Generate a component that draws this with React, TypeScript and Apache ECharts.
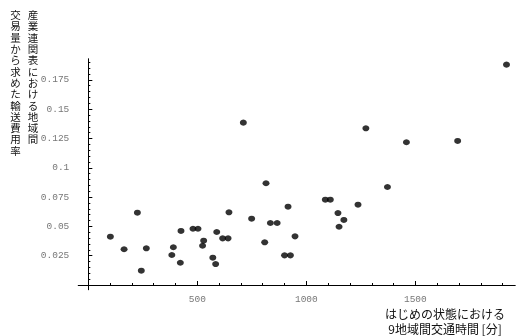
import { useEffect, useRef } from "react";
import * as echarts from "echarts";

// はじめの状態における9地域間交通時間 [分]
const transportTime = [
  101, 164, 225, 243, 266, 383, 390, 425, 422, 480, 503, 529, 524, 571, 584, 589,
  616, 641, 645, 711, 749, 809, 815, 835, 866, 900, 927, 916, 948, 1087, 1110,
  1145, 1150, 1172, 1237, 1273, 1372, 1459, 1694, 1918,
];
// 産業連関表における地域間交易量から求めた輸送費用率
const costRate = [
  0.0412, 0.0305, 0.0617, 0.0122, 0.0313, 0.0256, 0.0322, 0.0461, 0.019, 0.048,
  0.048, 0.0378, 0.0335, 0.0233, 0.0179, 0.0452, 0.0398, 0.0398, 0.062, 0.1385,
  0.0566, 0.0364, 0.0868, 0.0529, 0.0529, 0.0253, 0.0253, 0.0668, 0.0415, 0.0728,
  0.0728, 0.0614, 0.0497, 0.0555, 0.0685, 0.1337, 0.0836, 0.1218, 0.1229, 0.188,
];

const xMajorTicks = [500, 1000, 1500];
const xMinorTicks = [
  100, 200, 300, 400, 600, 700, 800, 900, 1100, 1200, 1300, 1400, 1600, 1700, 1800, 1900,
];
const yMajorTicks = [0.025, 0.05, 0.075, 0.1, 0.125, 0.15, 0.175];
const yMinorTicks = [
  0.005, 0.01, 0.015, 0.02, 0.03, 0.035, 0.04, 0.045, 0.055, 0.06, 0.065, 0.07,
  0.08, 0.085, 0.09, 0.095, 0.105, 0.11, 0.115, 0.12, 0.13, 0.135, 0.14, 0.145,
  0.155, 0.16, 0.165, 0.17, 0.18, 0.185, 0.19,
];

const yTitleColumn1 = "産業連関表における地域間";
const yTitleColumn2 = "交易量から求めた輸送費用率";
const xTitleLines = ["はじめの状態における", "9地域間交通時間 [分]"];

const X_MIN = -46;
const X_MAX = 1957;
const Y_MIN = -0.004;
const Y_MAX = 0.1928;

const labelStyle = {
  color: "#777",
  fontFamily: '"Liberation Mono", "DejaVu Sans Mono", monospace',
  fontSize: 9.5,
  formatter: (v: number) => String(v),
};

export default function App() {
  const ref = useRef<HTMLDivElement>(null);

  useEffect(() => {
    if (!ref.current) return;
    const chart = echarts.init(ref.current, undefined, { renderer: "svg" });
    const points = transportTime.map((x, i) => [x, costRate[i]]);

    const xAxisBase = {
      type: "value" as const,
      min: X_MIN,
      max: X_MAX,
      position: "bottom" as const,
      splitLine: { show: false },
    };
    const yAxisBase = {
      type: "value" as const,
      min: Y_MIN,
      max: Y_MAX,
      position: "left" as const,
      splitLine: { show: false },
    };

    chart.setOption({
      animation: false,
      grid: {
        left: 78.3,
        right: 1,
        top: 59,
        bottom: 336 - 289.7,
        containLabel: false,
        outerBoundsMode: "none",
      },
      xAxis: [
        {
          ...xAxisBase,
          axisLine: {
            onZero: true,
            onZeroAxisIndex: 0,
            lineStyle: { color: "#000", width: 1 },
          },
          axisTick: {
            inside: true,
            length: 4,
            customValues: xMajorTicks,
            lineStyle: { color: "#000", width: 1 },
          },
          axisLabel: { customValues: xMajorTicks, margin: 5, ...labelStyle },
        },
        {
          ...xAxisBase,
          axisLine: {
            onZero: true,
            onZeroAxisIndex: 0,
            lineStyle: { color: "#000", width: 1 },
          },
          axisTick: {
            inside: true,
            length: 2,
            customValues: xMinorTicks,
            lineStyle: { color: "#000", width: 1 },
          },
          axisLabel: { show: false },
        },
      ],
      yAxis: [
        {
          ...yAxisBase,
          axisLine: {
            onZero: true,
            onZeroAxisIndex: 0,
            lineStyle: { color: "#000", width: 1 },
          },
          axisTick: {
            inside: true,
            length: 4,
            customValues: yMajorTicks,
            lineStyle: { color: "#000", width: 1 },
          },
          axisLabel: { customValues: yMajorTicks, margin: 9, ...labelStyle },
        },
        {
          ...yAxisBase,
          axisLine: {
            onZero: true,
            onZeroAxisIndex: 0,
            lineStyle: { color: "#000", width: 1 },
          },
          axisTick: {
            inside: true,
            length: 2,
            customValues: yMinorTicks,
            lineStyle: { color: "#000", width: 1 },
          },
          axisLabel: { show: false },
        },
      ],
      series: [
        {
          type: "scatter",
          xAxisIndex: 0,
          yAxisIndex: 0,
          data: points,
          symbol: "circle",
          symbolSize: [7, 6],
          itemStyle: { color: "#000" },
          emphasis: { disabled: true },
        },
      ],
      graphic: [
        {
          type: "text",
          x: 33,
          y: 9,
          style: {
            text: yTitleColumn1.split("").join("\n"),
            font: '10.5px "Noto Sans CJK JP"',
            lineHeight: 11.3,
            fill: "#111",
            textAlign: "center",
            textVerticalAlign: "top",
          },
        },
        {
          type: "text",
          x: 15.5,
          y: 9,
          style: {
            text: yTitleColumn2.split("").join("\n"),
            font: '10.5px "Noto Sans CJK JP"',
            lineHeight: 11.3,
            fill: "#111",
            textAlign: "center",
            textVerticalAlign: "top",
          },
        },
        {
          type: "text",
          x: 445,
          y: 305.5,
          style: {
            text: xTitleLines.join("\n"),
            font: '12px "Noto Sans CJK JP"',
            lineHeight: 15,
            fill: "#111",
            textAlign: "center",
            textVerticalAlign: "top",
          },
        },
      ],
    });

    return () => chart.dispose();
  }, []);

  return (
    <div
      ref={ref}
      style={{ position: "fixed", left: 0, top: 0, width: 516, height: 336 }}
    />
  );
}
